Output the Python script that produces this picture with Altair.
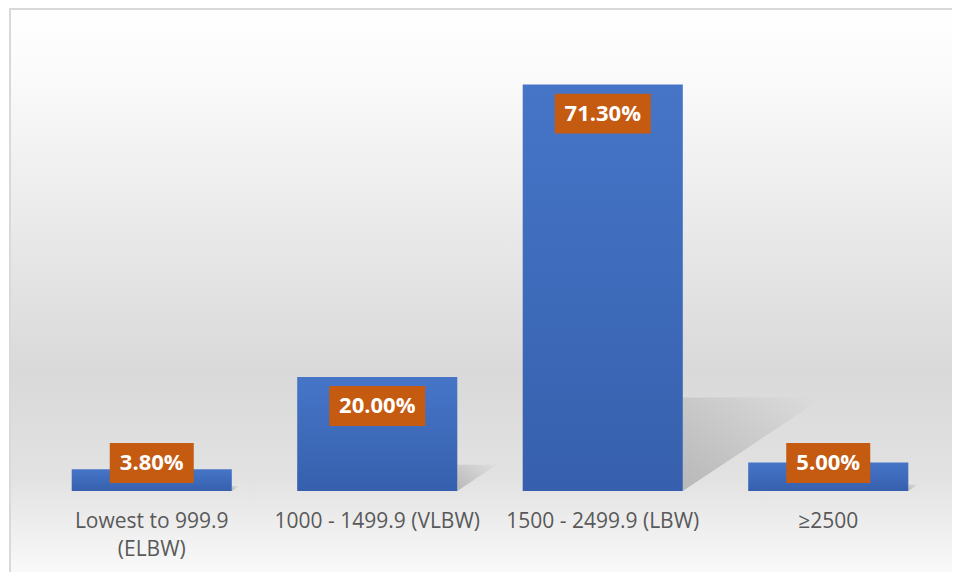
import altair as alt
import pandas as pd

categories = ["Lowest to 999.9 (ELBW)", "1000 - 1499.9 (VLBW)", "1500 - 2499.9 (LBW)", "≥2500"]
values = [3.8, 20.0, 71.3, 5.0]
labels = ["3.80%", "20.00%", "71.30%", "5.00%"]

df = pd.DataFrame({"cat": categories, "value": values, "label": labels})

W, H = 902, 456
YMAX = 80

wrap_expr = ("length(datum.label) > 20 ? "
             "[substring(datum.label, 0, lastindexof(datum.label, ' ')), "
             "substring(datum.label, lastindexof(datum.label, ' ') + 1)] : datum.label")

xenc = alt.X(
    "cat:N", sort=categories,
    scale=alt.Scale(paddingInner=0.29, paddingOuter=0.145),
    axis=alt.Axis(title=None, labelAngle=0, labelAlign="center", domain=False, ticks=False,
                  grid=False, labelPadding=30, labelFontSize=21, labelColor="#595959",
                  labelFont="Open Sans", labelLimit=0, labelLineHeight=28,
                  labelBaseline="middle", labelExpr=wrap_expr, zindex=2),
)
yscale = alt.Scale(domain=[0, YMAX], nice=False)

base = alt.Chart(df).transform_calculate(
    pos="max(datum.value - 5.1, 4.9)",
).transform_calculate(
    lo="datum.pos - 3.5", hi="datum.pos + 3.5", zero="0",
    ssize="pow(datum.value * 0.345 * %f / %f, 2)" % (H, YMAX),
)

bg = alt.Chart(alt.Data(values=[{}])).mark_rect(
    fill=alt.Gradient(
        gradient="linear", x1=0, x2=0, y1=0, y2=1,
        stops=[
            alt.GradientStop(color="#ffffff", offset=0),
            alt.GradientStop(color="#fafafa", offset=0.12),
            alt.GradientStop(color="#d9d9d9", offset=0.62),
            alt.GradientStop(color="#e2e2e2", offset=0.8),
            alt.GradientStop(color="#ffffff", offset=1),
        ],
    ),
    stroke="#d9d9d9", strokeWidth=2,
).encode(x=alt.value(-29), x2=alt.value(960), y=alt.value(-26), y2=alt.value(560))

shadow = base.mark_point(
    shape="M0,0L0,-1.333L2,-1.333Z", filled=True, opacity=0.65, strokeWidth=0,
    fill=alt.Gradient(
        gradient="linear", x1=0, x2=1, y1=1, y2=0,
        stops=[alt.GradientStop(color="#a0a0a0", offset=0),
               alt.GradientStop(color="#dddddd", offset=1)],
    ),
).encode(
    x=alt.X("cat:N", sort=categories, bandPosition=1),
    y=alt.Y("zero:Q", scale=yscale, axis=None),
    size=alt.Size("ssize:Q", scale=None, legend=None),
)

bars = base.mark_bar(
    fill=alt.Gradient(
        gradient="linear", x1=0, x2=0, y1=0, y2=1,
        stops=[alt.GradientStop(color="#4675c8", offset=0),
               alt.GradientStop(color="#3660ad", offset=1)],
    ),
).encode(x=xenc, y=alt.Y("value:Q", scale=yscale, axis=None))

box5 = base.transform_filter("length(datum.label) == 5").mark_bar(
    width=84, color="#c55a11").encode(
    x=alt.X("cat:N", sort=categories), y=alt.Y("lo:Q", scale=yscale, axis=None), y2="hi:Q")
box6 = base.transform_filter("length(datum.label) == 6").mark_bar(
    width=96, color="#c55a11").encode(
    x=alt.X("cat:N", sort=categories), y=alt.Y("lo:Q", scale=yscale, axis=None), y2="hi:Q")

text = base.mark_text(
    font="Open Sans", fontWeight="bold", fontSize=22, color="#ffffff", baseline="middle",
).encode(x=alt.X("cat:N", sort=categories), y=alt.Y("pos:Q", scale=yscale, axis=None),
         text="label:N")

chart = alt.layer(bg, shadow, bars, box5, box6, text).properties(
    width=W, height=H,
    autosize=alt.AutoSizeParams(type="none"),
    padding={"left": 31, "top": 27, "right": 11, "bottom": 81},
    background="#ffffff",
).configure_view(stroke=None)

chart.save("out.html", embed_options={"renderer": "svg", "actions": False})
